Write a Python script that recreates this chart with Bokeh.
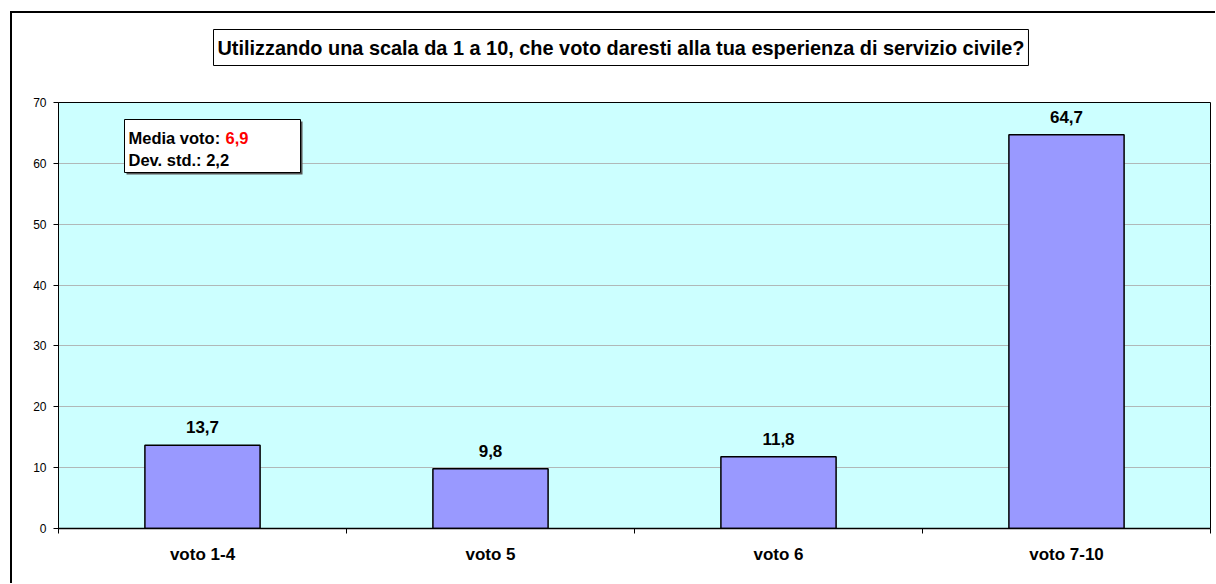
import numpy as np
from bokeh.plotting import figure
from bokeh.layouts import column
from bokeh.models import Range1d, FixedTicker, Label, ColumnDataSource, Title
from bokeh.core.properties import value
from bokeh.embed import file_html
from bokeh.resources import INLINE

# ---- data ----
categories = ["voto 1-4", "voto 5", "voto 6", "voto 7-10"]
percentages = [13.7, 9.8, 11.8, 64.7]
value_labels = ["13,7", "9,8", "11,8", "64,7"]
y_ticks = [0, 10, 20, 30, 40, 50, 60, 70]
title_text = "Utilizzando una scala da 1 a 10, che voto daresti alla tua esperienza di servizio civile?"
mean_label = "Media voto: "
mean_value = "6,9"
std_label = "Dev. std.: 2,2"

FONT = "Liberation Sans"

n = len(categories)
centers = np.arange(n) + 0.5

# canvas starts at (12, 13) because of the outer frame drawn with CSS on the wrapper
p = figure(width=1203, height=570, output_backend="svg", toolbar_location=None,
           x_range=Range1d(0, n), y_range=Range1d(0, 70),
           min_border_left=46, min_border_right=5, min_border_top=89, min_border_bottom=55)

# spacer between frame and title box, then the boxed title
p.add_layout(Title(text=" ", text_font_size="1px", standoff=34), "above")
p.add_layout(Title(text=title_text, align="left", vertical_align="bottom", offset=155, standoff=0,
                   text_font=FONT, text_font_size="19.9px", text_font_style="bold",
                   text_color="black", background_fill_color="white",
                   border_line_color="black", border_line_width=1,
                   padding=dict(left=4, right=4, top=7, bottom=7)), "above")

p.background_fill_color = "#CCFFFF"
p.border_fill_color = "white"
p.outline_line_color = "black"
p.outline_line_width = 1

# grid
p.xgrid.grid_line_color = None
p.ygrid.grid_line_color = "#b0b8b8"
p.ygrid.grid_line_width = 1

# y axis
p.yaxis.ticker = FixedTicker(ticks=y_ticks)
p.yaxis.major_tick_out = 5
p.yaxis.major_tick_in = 0
p.yaxis.minor_tick_out = 0
p.yaxis.minor_tick_in = 0
p.yaxis.major_label_standoff = 7
p.yaxis.major_label_text_font = FONT
p.yaxis.major_label_text_font_size = "12px"
p.yaxis.major_label_text_color = "black"
p.yaxis.axis_line_color = "black"
p.yaxis.major_tick_line_color = "black"

# x axis: labels at centers, ticks at boundaries (minor)
p.xaxis.ticker = FixedTicker(ticks=list(centers), minor_ticks=list(range(n + 1)))
p.xaxis.major_label_overrides = {float(c): lab for c, lab in zip(centers, categories)}
p.xaxis.major_tick_out = 0
p.xaxis.major_tick_in = 0
p.xaxis.minor_tick_out = 5
p.xaxis.minor_tick_in = 0
p.xaxis.minor_tick_line_color = "black"
p.xaxis.axis_line_color = "black"
p.xaxis.axis_line_width = 1.5
p.xaxis.major_label_standoff = 11
p.xaxis.major_label_text_font = FONT
p.xaxis.major_label_text_font_size = "17px"
p.xaxis.major_label_text_font_style = "bold"
p.xaxis.major_label_text_color = "black"

src = ColumnDataSource(dict(x=centers, top=percentages, lab=value_labels))
p.vbar(x="x", top="top", width=0.4, source=src, fill_color="#9999FF",
       line_color="black", line_width=1.5)
p.text(x="x", y="top", text="lab", source=src, y_offset=-18,
       text_align="center", text_baseline="middle",
       text_font=value(FONT), text_font_size="17px", text_font_style="bold",
       text_color="black")

# stats box (in data coords, inside plot area)
ppx = 1152 / n     # pixels per x unit (frame width)
ppy = 426 / 70     # pixels per y unit (frame height)
bx0, bx1 = 66 / ppx, 242 / ppx
by0, by1 = 356 / ppy, 409 / ppy
p.quad(left=bx0 + 2 / ppx, right=bx1 + 2 / ppx, bottom=by0 - 2 / ppy, top=by1 - 2 / ppy,
       fill_color="#555555", line_color=None)
p.quad(left=bx0, right=bx1, bottom=by0, top=by1, fill_color="white",
       line_color="black", line_width=1)

lab_kw = dict(x_units="screen", y_units="screen", text_font=FONT, text_font_style="bold",
              text_align="left", text_baseline="alphabetic")
p.add_layout(Label(x=70, y=391, text=mean_label, text_font_size="16.5px",
                   text_color="black", **lab_kw))
p.add_layout(Label(x=167, y=391, text=mean_value, text_font_size="16.5px",
                   text_color="red", **lab_kw))
p.add_layout(Label(x=70, y=369, text=std_label, text_font_size="16.5px",
                   text_color="black", **lab_kw))

layout = column(p, styles={"border-style": "solid", "border-color": "black",
                           "border-width": "2px 0px 0px 2px",
                           "margin-left": "10px", "margin-top": "11px"})

open("out.html", "w").write(file_html(layout, INLINE))
